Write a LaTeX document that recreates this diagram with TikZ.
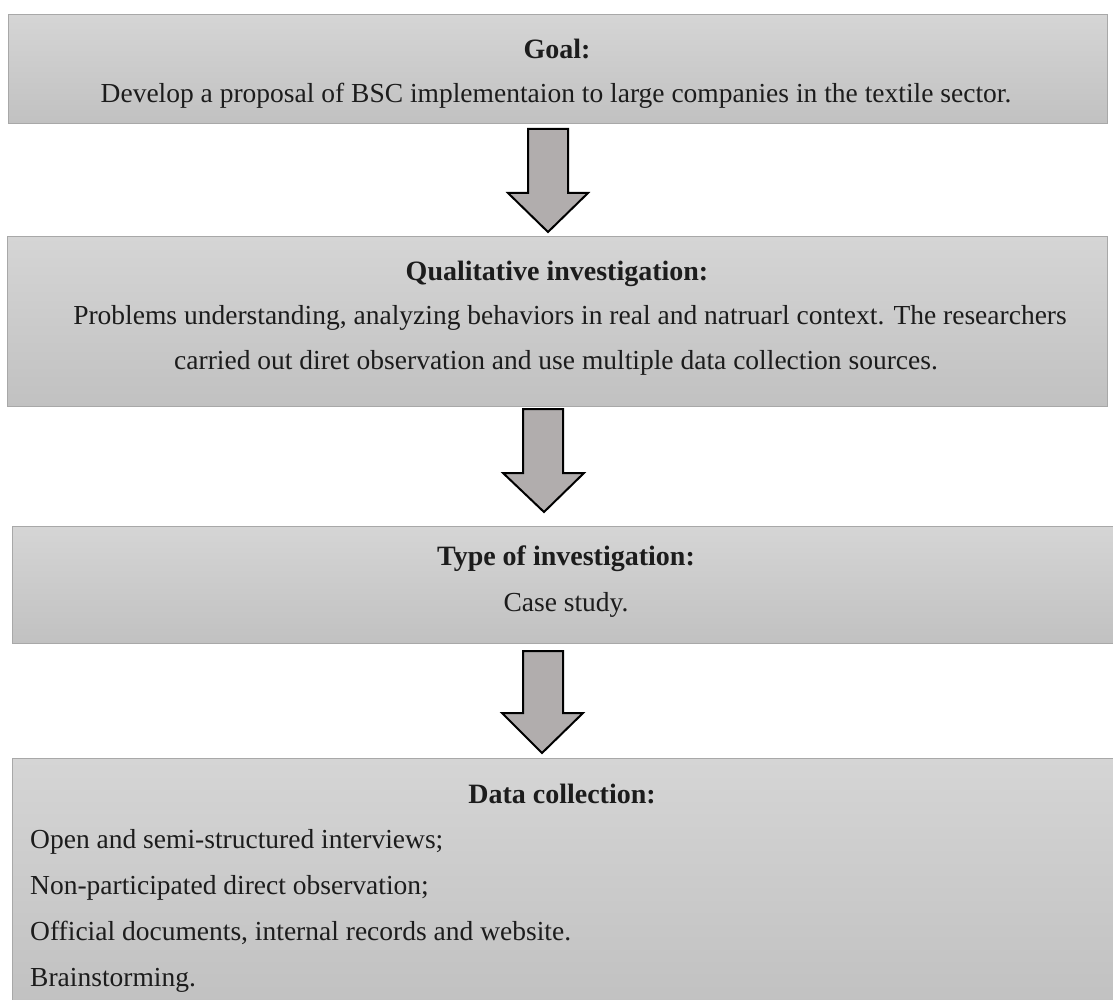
\documentclass[tikz,border=0pt]{standalone}
\usepackage{fontspec}
\setmainfont{Liberation Serif}
\begin{document}
\begin{tikzpicture}[x=1pt,y=-1pt,
  flowbox/.style={draw=boxedge, line width=1.2pt, top color=boxtop, bottom color=boxbot, rectangle, inner sep=0pt, anchor=north west},
  blockarrow/.style={draw=black, line width=2pt, fill=arrowfill, line join=miter},
  txt/.style={anchor=base, inner sep=0pt, text=textcol, font=\fontsize{27.5}{32}\selectfont},
  ttl/.style={txt, font=\fontsize{28}{32}\selectfont\bfseries},
  lft/.style={txt, anchor=base west}]
\definecolor{boxedge}{HTML}{A8A8A8}
\definecolor{boxtop}{HTML}{D5D5D5}
\definecolor{boxbot}{HTML}{C1C1C1}
\definecolor{arrowfill}{HTML}{B1ADAD}
\definecolor{textcol}{HTML}{1C1C1C}
\useasboundingbox[fill=white] (0,0) rectangle (1113,1000);
% boxes
\node[flowbox, minimum width=1099pt, minimum height=109pt] (b1) at (8,14) {};
\node[flowbox, minimum width=1100pt, minimum height=170pt] (b2) at (7,236) {};
\node[flowbox, minimum width=1104pt, minimum height=117pt] (b3) at (12,526) {};
\node[flowbox, minimum width=1104pt, minimum height=246pt] (b4) at (12,758) {};
% block arrows
\draw[blockarrow] (528,129) -- (568,129) -- (568,193) -- (588,193) -- (548,232) -- (508,193) -- (528,193) -- cycle;
\draw[blockarrow] (523,409) -- (563,409) -- (563,473) -- (584,473) -- (544,512) -- (503,473) -- (523,473) -- cycle;
\draw[blockarrow] (523,651) -- (563,651) -- (563,713) -- (583,713) -- (542,753) -- (502,713) -- (523,713) -- cycle;
% texts
\node[ttl] (g1) at (557,59) {Goal:};
\node[txt] (g2) at (556,103) {Develop a proposal of BSC implementaion to large companies in the textile sector.};
\node[ttl] (q1) at (557,280) {Qualitative investigation:};
\node[txt] (q2) at (570,324) {Problems understanding, analyzing behaviors in real and natruarl context. The researchers};
\node[txt] (q3) at (556,369) {carried out diret observation and use multiple data collection sources.};
\node[ttl] (c1) at (566,565) {Type of investigation:};
\node[txt] (c2) at (566,611) {Case study.};
\node[ttl] (d0) at (562,803) {Data collection:};
\node[lft] (d1) at (30,848) {Open and semi-structured interviews;};
\node[lft] (d2) at (30,894) {Non-participated direct observation;};
\node[lft] (d3) at (30,940) {Official documents, internal records and website.};
\node[lft] (d4) at (30,986) {Brainstorming.};
\end{tikzpicture}
\end{document}
